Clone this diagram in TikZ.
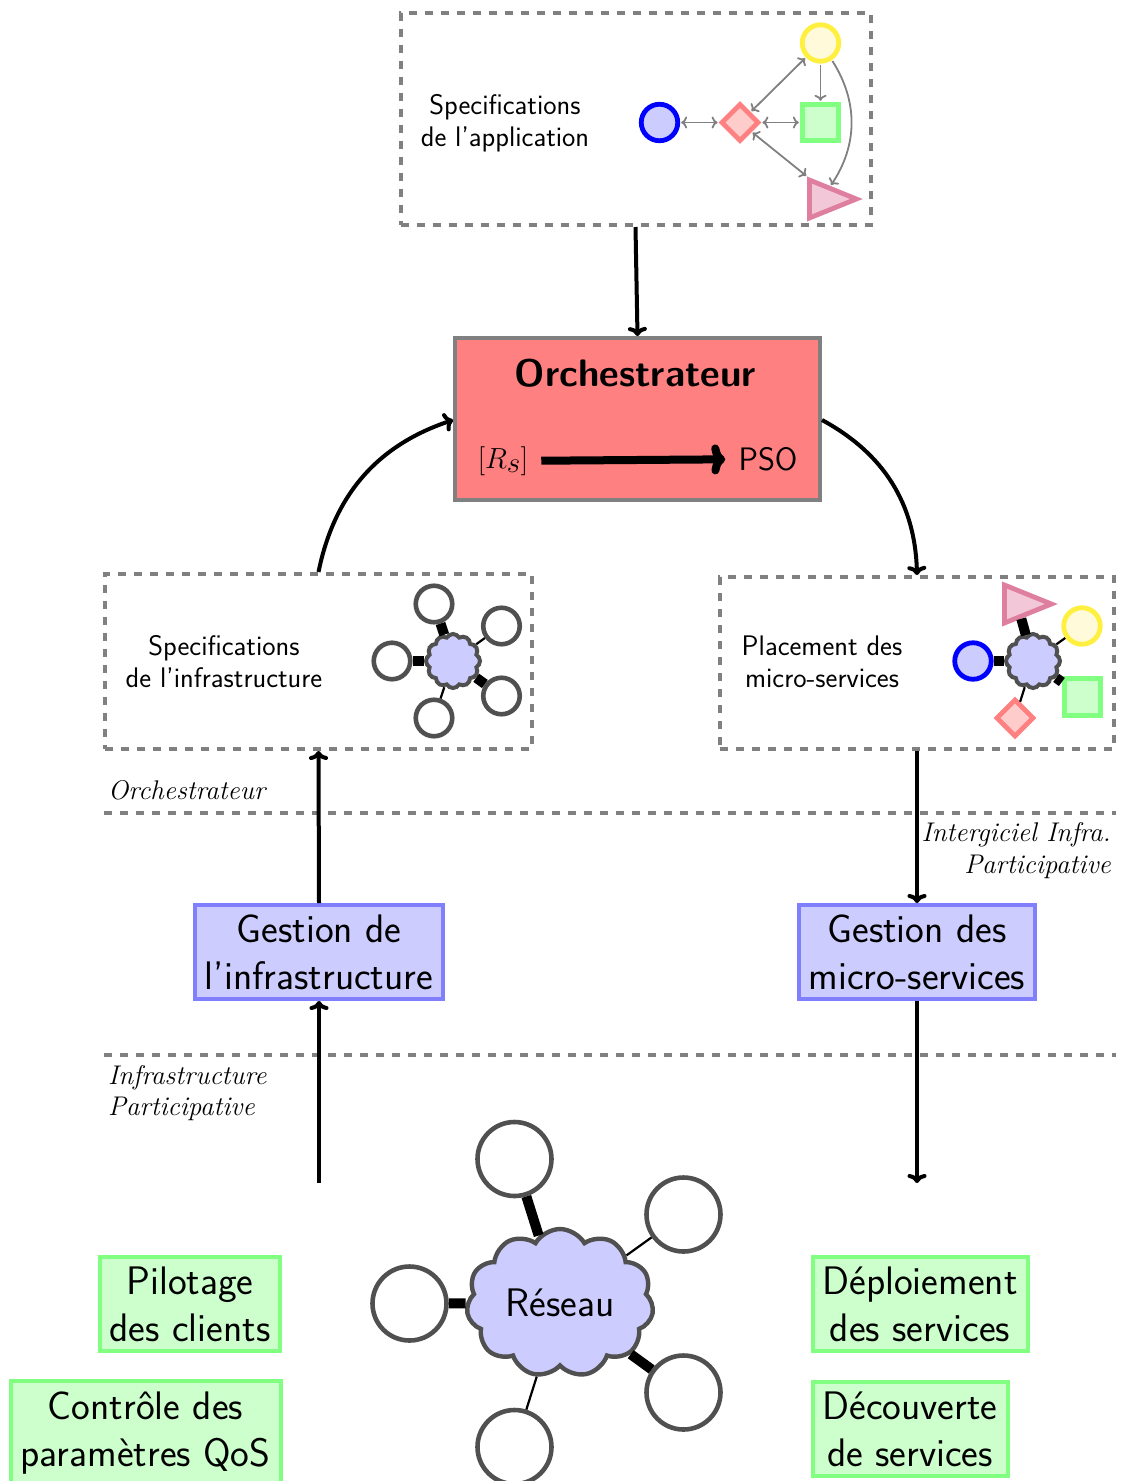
\documentclass[tikz,border=0pt]{standalone}
\usepackage{fontspec}
\usepackage{graphicx}
\usetikzlibrary{shapes.geometric,shapes.symbols,arrows.meta}
\definecolor{cblue}{HTML}{CCCCFF}
\definecolor{eblue}{HTML}{8080FF}
\definecolor{cgreen}{HTML}{CCFFCC}
\definecolor{egreen}{HTML}{80FF80}
\definecolor{cred}{HTML}{FF8080}
\definecolor{cdiam}{HTML}{FFCCCC}
\definecolor{cyel}{HTML}{FFFAD9}
\definecolor{eyel}{HTML}{FFF040}
\definecolor{cpink}{HTML}{F2C8D8}
\definecolor{epink}{HTML}{DF7F9F}
\definecolor{dgray}{HTML}{505050}
\tikzset{
  dashbox/.style={draw=gray,line width=4pt,dash pattern=on 8pt off 8pt,inner sep=0pt},
  dashrule/.style={draw=gray,line width=4pt,dash pattern=on 8pt off 8pt},
  flow/.style={draw=black,line width=4pt,-{Computer Modern Rightarrow[length=9pt,width=19pt]}},
  smallarrow/.style={draw=gray,line width=1.8pt,-{Computer Modern Rightarrow[length=6pt,width=12pt]},shorten >=1pt,shorten <=1pt},
  bothway/.style={draw=gray,line width=1.8pt,{Computer Modern Rightarrow[length=6pt,width=12pt]}-{Computer Modern Rightarrow[length=6pt,width=12pt]},shorten >=1pt,shorten <=1pt},
  bigarrow/.style={draw=black,line width=8pt,-{Computer Modern Rightarrow[length=14pt,width=30pt]},shorten <=13pt,shorten >=13pt},
  speclabel/.style={font=\sffamily\fontsize{28.3}{32}\selectfont,align=center,inner sep=0pt},
  biglabel/.style={font=\sffamily\fontsize{39.8}{47}\selectfont,align=center,inner sep=0pt},
  layerlabel/.style={font=\rmfamily\itshape\fontsize{27}{31.5}\selectfont,inner sep=0pt},
  bluebox/.style={biglabel,draw=eblue,fill=cblue,line width=4pt},
  greenbox/.style={biglabel,draw=egreen,fill=cgreen,line width=4pt},
  mblue/.style={circle,draw=blue,fill=cblue,line width=4.8pt,minimum size=36.5pt,inner sep=0pt},
  mred/.style={diamond,draw=cred,fill=cdiam,line width=4.8pt,minimum size=38pt,inner sep=0pt},
  mgreen/.style={rectangle,draw=egreen,fill=cgreen,line width=4.8pt,minimum size=36.5pt,inner sep=0pt},
  myel/.style={circle,draw=eyel,fill=cyel,line width=4.8pt,minimum size=36.5pt,inner sep=0pt},
  mpink/.style={isosceles triangle,isosceles triangle stretches,draw=epink,fill=cpink,line width=4.8pt,minimum width=38pt,minimum height=47pt,inner sep=0pt,anchor=west},
  host/.style={circle,draw=dgray,fill=white,line width=4.6pt,minimum size=36.5pt,inner sep=0pt},
  bighost/.style={host,minimum size=74pt},
  smallcloud/.style={cloud,cloud puffs=12,cloud puff arc=120,aspect=1,draw=dgray,fill=cblue,line width=4pt,minimum width=54pt,minimum height=54pt,inner sep=0pt},
  bigcloud/.style={cloud,cloud puffs=11,cloud puff arc=120,aspect=1.25,draw=dgray,fill=cblue,line width=4.4pt,minimum width=187pt,minimum height=148pt,inner sep=0pt,font=\sffamily\fontsize{39.8}{47}\selectfont},
  thinlink/.style={draw=black,line width=2.2pt},
  widelink/.style={draw=black,line width=10pt},
}
\begin{document}
\begin{tikzpicture}[x=1pt,y=-1pt]
\useasboundingbox (0,0) rectangle (1121,1481);

% ---- application box
\node[dashbox,minimum width=470pt,minimum height=212pt] (app) at (635.5,119) {};
\node[speclabel] (applabel) at (505,123.5) {Specifications\\de l'application};
\node[mblue] (a1) at (659.5,122.5) {};
\node[mred] (a2) at (740,122.5) {};
\node[mgreen] (a3) at (820.5,122.5) {};
\node[myel] (a4) at (820.5,43) {};
\node[mpink] (a5) at (807,199) {};
\draw[bothway] (a1) -- (a2);
\draw[bothway] (a2) -- (a3);
\draw[bothway] (a2) -- (a4);
\draw[bothway] (a2) -- (a5.left corner);
\draw[smallarrow] (a4) -- (a3);
\draw[smallarrow] (a4) to[bend left=33] (a5);

% ---- orchestrator
\node[draw=gray,fill=cred,line width=4pt,minimum width=365pt,minimum height=162pt,inner sep=0pt] (orch) at (637.5,419) {};
\node[font=\sffamily\bfseries\fontsize{38.3}{46}\selectfont,inner sep=0pt] (orchtitle) at (635.5,373) {Orchestrateur};
\node[inner sep=0pt] (rs) at (503,461) {\scalebox{1.167}{\fontsize{35}{42}\selectfont$[R_s]$}};
\node[font=\sffamily\fontsize{32.5}{39}\selectfont,inner sep=0pt] (pso) at (768,459) {PSO};
\draw[bigarrow] (rs) -- (pso);
\draw[flow] (app.south) -- (orch.north);

% ---- infrastructure box
\node[dashbox,minimum width=427pt,minimum height=175pt] (infra) at (318.5,661.5) {};
\node[speclabel] (infralabel) at (224,662) {Specifications\\de l'infrastructure};
\node[host] (i1) at (434,604) {};
\node[host] (i2) at (501.5,626) {};
\node[host] (i3) at (392,661) {};
\node[host] (i4) at (501.5,696) {};
\node[host] (i5) at (434,718) {};
\node[smallcloud] (ic) at (453,661) {};
\draw[widelink] (i1) -- (ic);
\draw[thinlink] (i2) -- (ic);
\draw[widelink] (i3) -- (ic);
\draw[widelink] (i4) -- (ic);
\draw[thinlink] (i5) -- (ic);

% ---- placement box
\node[dashbox,minimum width=394pt,minimum height=172pt] (place) at (917,663) {};
\node[speclabel] (placelabel) at (822,662) {Placement des\\micro-services};
\node[smallcloud] (pc) at (1033,661) {};
\node[mpink] (p1) at (1002,604) {};
\node[myel] (p2) at (1082,626) {};
\node[mblue] (p3) at (973,661) {};
\node[mgreen] (p4) at (1082.5,697) {};
\node[mred] (p5) at (1015,718) {};
\draw[widelink] (p1) -- (pc);
\draw[thinlink] (p2) -- (pc);
\draw[widelink] (p3) -- (pc);
\draw[widelink] (p4) -- (pc);
\draw[thinlink] (p5) -- (pc);

\draw[flow] (infra.north) to[bend left=30] (orch.west |- 0,420);
\draw[flow] (orch.east |- 0,420) to[bend left=30] (place.north);

% ---- layers
\coordinate (r1a) at (104,812.5);
\coordinate (r1b) at (1116,812.5);
\coordinate (r2a) at (104,1054.5);
\coordinate (r2b) at (1116,1054.5);
\draw[dashrule] (r1a) -- (r1b);
\draw[dashrule] (r2a) -- (r2b);
\node[layerlabel,anchor=west] (l1) at (108,790.5) {Orchestrateur};
\node[layerlabel,anchor=east,align=right] (l2) at (1111,850.5) {Intergiciel Infra.\\Participative};
\node[layerlabel,anchor=west,align=left] (l3) at (108,1093) {Infrastructure\\Participative};

% ---- middleware
\node[bluebox,minimum width=248pt,minimum height=94pt] (gi) at (319,952) {Gestion de\\l'infrastructure};
\node[bluebox,minimum width=236pt,minimum height=94pt] (gm) at (917,952) {Gestion des\\micro-services};
\coordinate (upfree) at (319,1183);
\coordinate (downfree) at (917,1183);
\draw[flow] (gi.north) -- (infra.south);
\draw[flow] (upfree) -- (gi.south);
\draw[flow] (place.south) -- (gm.north);
\draw[flow] (gm.south) -- (downfree);

% ---- bottom
\node[greenbox,minimum width=180pt,minimum height=94pt] (b1) at (190,1304) {Pilotage\\des clients};
\node[greenbox,minimum width=270pt,minimum height=104pt] (b2) at (145.5,1433) {Contrôle des\\paramètres QoS};
\node[greenbox,minimum width=215pt,minimum height=94pt] (b3) at (920,1304) {Déploiement\\des services};
\node[greenbox,minimum width=195pt,minimum height=94pt] (b4) at (910,1429) {Découverte\\de services};

\node[bigcloud] (net) at (560,1303) {Réseau};
\node[bighost] (n1) at (514.5,1159) {};
\node[bighost] (n2) at (683.5,1214.5) {};
\node[bighost] (n3) at (409.5,1303.5) {};
\node[bighost] (n4) at (683.5,1392.5) {};
\node[bighost] (n5) at (514.5,1447) {};
\draw[widelink] (n1) -- (net);
\draw[thinlink] (n2) -- (net);
\draw[widelink] (n3) -- (net);
\draw[widelink] (n4) -- (net);
\draw[thinlink] (n5) -- (net);
\end{tikzpicture}
\end{document}
